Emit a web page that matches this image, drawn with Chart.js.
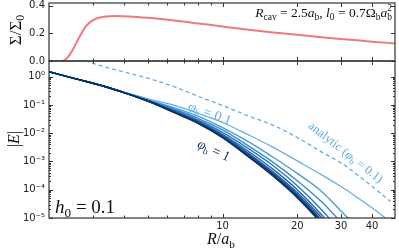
<!DOCTYPE html>
<html>
<head>
<meta charset="utf-8">
<script src="https://cdn.jsdelivr.net/npm/chart.js@4"></script>
<style>
  html, body { margin: 0; padding: 0; background: #fff; }
  #wrap { position: relative; width: 399px; height: 249px; }
  canvas { position: absolute; left: 0; top: 0; }
</style>
</head>
<body>
<div id="wrap">
  <canvas id="top" width="399" height="70"></canvas>
  <canvas id="bottom" width="399" height="249"></canvas>
</div>
<script>
// ==================
//  DATOS
// ==================
// panel superior: Sigma/Sigma_0
const sigmaR = [2, 2.2, 2.3, 2.4, 2.5, 2.6, 2.7, 2.8, 2.9, 3.0, 3.2, 3.4, 3.7, 4.2, 5, 6.5, 8, 10, 13, 16, 20, 25, 30, 35, 40, 49.5];
const sigmaVal = [0, 0, 0.005, 0.035, 0.085, 0.145, 0.2, 0.245, 0.275, 0.295, 0.315, 0.323, 0.326, 0.323, 0.313, 0.292, 0.272, 0.25, 0.225, 0.207, 0.19, 0.172, 0.16, 0.15, 0.14, 0.127];

// panel inferior: |E| para cada phi_b
const eR = [2, 2.5, 3.2, 4, 5, 6.5, 8, 10, 13, 16, 20, 25, 30, 35, 40, 45, 49.5];
const phiB = [1, 0.9, 0.8, 0.7, 0.6, 0.5, 0.4, 0.3, 0.2, 0.1];
const ePhi10 = [1.5, 0.89, 0.51, 0.275, 0.138, 0.0501, 0.0219, 0.00692, 0.00126, 3.02e-4, 5.25e-5, 6.3e-6, 7.9e-7];
const ePhi09 = [1.5, 0.89, 0.51, 0.275, 0.138, 0.0513, 0.0224, 0.00708, 0.00132, 3.16e-4, 5.62e-5, 6.9e-6, 8.9e-7];
const ePhi08 = [1.5, 0.89, 0.51, 0.275, 0.138, 0.0525, 0.0229, 0.00741, 0.00138, 3.39e-4, 6.03e-5, 7.6e-6, 1.0e-6];
const ePhi07 = [1.5, 0.89, 0.51, 0.275, 0.138, 0.0537, 0.0234, 0.00776, 0.00151, 3.72e-4, 6.76e-5, 8.7e-6, 1.26e-6];
const ePhi06 = [1.5, 0.89, 0.51, 0.28, 0.141, 0.055, 0.0245, 0.00832, 0.0017, 4.27e-4, 7.94e-5, 1.05e-5, 1.6e-6];
const ePhi05 = [1.5, 0.89, 0.51, 0.28, 0.141, 0.0575, 0.0263, 0.00912, 0.002, 5.25e-4, 1.0e-4, 1.32e-5, 2.0e-6];
const ePhi04 = [1.5, 0.89, 0.51, 0.28, 0.145, 0.0617, 0.0288, 0.0107, 0.00251, 7.08e-4, 1.38e-4, 2.0e-5, 3.2e-6];
const ePhi03 = [1.5, 0.89, 0.51, 0.28, 0.148, 0.0676, 0.0331, 0.0132, 0.00316, 9.3e-4, 2.09e-4, 3.8e-5, 7.1e-6, 1.6e-6];
const ePhi02 = [1.5, 0.89, 0.51, 0.28, 0.155, 0.0759, 0.0398, 0.0158, 0.00447, 0.00141, 3.8e-4, 8.9e-5, 1.78e-5, 4.5e-6];
const ePhi01 = [1.5, 0.89, 0.51, 0.288, 0.166, 0.0933, 0.0501, 0.024, 0.00794, 0.00316, 1.05e-3, 3.43e-4, 1.29e-4, 5.25e-5, 2.29e-5, 1.05e-5, 5.4e-6];
const eSeries = [ePhi10, ePhi09, ePhi08, ePhi07, ePhi06, ePhi05, ePhi04, ePhi03, ePhi02, ePhi01];

// analitico (phi_b = 0.1), discontinua
const analyticR = [2.8, 3.2, 4, 5, 6.5, 8, 10, 13, 16, 20, 25, 30, 35, 40, 45, 47.5];
const analyticE = [3.63, 2.51, 1.48, 0.89, 0.417, 0.2, 0.0955, 0.038, 0.019, 0.00708, 0.00219, 8.9e-4, 3.3e-4, 1.32e-4, 5.6e-5, 3.8e-5];

// ticks
const xLabels = [10, 20, 30, 40];
const xMinor = [3, 4, 5, 6, 7, 8, 9];
const topTicks = [0, 0.2, 0.4];
const bottomTicks = [1, 0.1, 0.01, 1e-3, 1e-4, 1e-5];

// ==================
//  ESTILOS
// ==================
const BLUES = ["#08306b", "#0a3a7a", "#0d4486", "#114f93", "#155a9f", "#1d66ab", "#2a78bb", "#3a8bc9", "#4c9bd4", "#65ade0"];
const LIGHT = "#65ade0";
const RED = "#ef7a7a";
const SERIF = '"Liberation Serif", "DejaVu Serif", serif';
const SANS = "DejaVu Sans";
const SUP = { "-": "⁻", "0": "⁰", "1": "¹", "2": "²", "3": "³", "4": "⁴", "5": "⁵" };
const sup = (n) => String(n).split("").map((c) => SUP[c]).join("");

// ==================
//  PLUGINS
// ==================
// marco con ticks hacia dentro (estilo matplotlib)
function makeFrame(cfg) {
  return {
    id: "frame",
    afterDraw(chart) {
      const { ctx, chartArea: a } = chart;
      const xs = chart.scales.x, ys = chart.scales.y;
      ctx.save();
      ctx.strokeStyle = "#333";
      ctx.lineWidth = 1.2;
      ctx.strokeRect(a.left, a.top, a.right - a.left, a.bottom - a.top);
      ctx.lineWidth = 1;
      ctx.beginPath();
      const xt = (v, len) => {
        const p = Math.round(xs.getPixelForValue(v)) + 0.5;
        ctx.moveTo(p, a.bottom); ctx.lineTo(p, a.bottom - len);
        ctx.moveTo(p, a.top); ctx.lineTo(p, a.top + len);
      };
      const yt = (v, len) => {
        const p = Math.round(ys.getPixelForValue(v)) + 0.5;
        ctx.moveTo(a.left, p); ctx.lineTo(a.left + len, p);
        ctx.moveTo(a.right, p); ctx.lineTo(a.right - len, p);
      };
      xLabels.forEach((v) => xt(v, 4));
      xMinor.forEach((v) => xt(v, 2.5));
      cfg.yMajor.forEach((v) => yt(v, 4));
      (cfg.yMinor || []).forEach((v) => yt(v, 2));
      ctx.stroke();
      ctx.restore();
    },
  };
}

// texto con sub/superindices
function drawRich(ctx, n) {
  const size = n.size;
  const font = (k) => {
    const s = k === "sub" || k === "sup" ? size * 0.7 : size;
    return `${k === "i" ? "italic " : ""}${s}px ${SERIF}`;
  };
  let w = 0, lastSub = null;
  const runs = n.parts.map(([t, k]) => {
    ctx.font = font(k);
    const tw = ctx.measureText(t).width;
    let dx = w;
    if (k === "sup" && lastSub) {
      dx = lastSub.dx;
      w = Math.max(w, dx + tw);
    } else {
      w += tw;
    }
    const run = { t, k, dx };
    lastSub = k === "sub" ? run : null;
    return run;
  });
  ctx.save();
  ctx.translate(n.x, n.y);
  ctx.rotate(((n.angle || 0) * Math.PI) / 180);
  ctx.fillStyle = n.color || "#111";
  ctx.textBaseline = "alphabetic";
  ctx.textAlign = "left";
  const x0 = n.align === "right" ? -w : n.align === "left" ? 0 : -w / 2;
  const y0 = n.mid ? size * 0.33 : 0;
  runs.forEach((r) => {
    ctx.font = font(r.k);
    const dy = r.k === "sub" ? size * 0.22 : r.k === "sup" ? -size * 0.42 : 0;
    ctx.fillText(r.t, x0 + r.dx, y0 + dy);
  });
  ctx.restore();
}

function makeNotes(items) {
  return {
    id: "notes",
    afterDraw(chart) {
      items.forEach((n) => drawRich(chart.ctx, n));
    },
  };
}

const yAxisFit = (s) => { s.width = 45; s.paddingTop = 0; s.paddingBottom = 0; };
const tickFont = { family: SANS, size: 10 };

// ==================
//  PANEL SUPERIOR
// ==================
new Chart(document.getElementById("top"), {
  type: "line",
  data: {
    datasets: [{
      data: sigmaR.map((r, i) => ({ x: r, y: sigmaVal[i] })),
      borderColor: RED,
      borderWidth: 2,
      pointRadius: 0,
      cubicInterpolationMode: "monotone",
    }],
  },
  options: {
    responsive: false,
    animation: false,
    layout: { padding: { left: 4, right: 4, top: 3, bottom: 9 } },
    plugins: { legend: { display: false }, tooltip: { enabled: false } },
    scales: {
      x: { type: "logarithmic", min: 2, max: 49.5, display: false },
      y: {
        min: 0, max: 0.42,
        grid: { display: false, drawTicks: false },
        border: { display: false },
        ticks: { font: tickFont, color: "#222", padding: 4, callback: (v) => v.toFixed(1) },
        afterBuildTicks: (s) => { s.ticks = topTicks.map((v) => ({ value: v })); },
        afterFit: yAxisFit,
      },
    },
  },
  plugins: [
    makeFrame({ yMajor: topTicks }),
    makeNotes([
      { parts: [["Σ", "r"], ["/", "r"], ["Σ", "r"], ["0", "sub"]], x: 15, y: 30, angle: -90, mid: true, size: 17 },
      {
        parts: [["R", "i"], ["cav", "sub"], [" = 2.5", "r"], ["a", "i"], ["b", "sub"], [", ", "r"], ["l", "i"], ["0", "sub"],
          [" = 0.7Ω", "r"], ["b", "sub"], ["a", "i"], ["b", "sub"], ["2", "sup"]],
        x: 392, y: 17, align: "right", size: 13.5,
      },
    ]),
  ],
});

// ==================
//  PANEL INFERIOR
// ==================
const yMinor = [];
bottomTicks.slice(1).forEach((d) => {
  for (let k = 2; k <= 9; k++) yMinor.push(d * k);
});

const eDatasets = eSeries.map((vals, i) => ({
  data: vals.map((v, j) => ({ x: eR[j], y: v })),
  borderColor: BLUES[i],
  borderWidth: i === BLUES.length - 1 ? 1.2 : 1.4,
  pointRadius: 0,
  cubicInterpolationMode: "monotone",
  clip: 0,
}));

eDatasets.push({
  data: analyticR.map((r, i) => ({ x: r, y: analyticE[i] })),
  borderColor: LIGHT,
  borderWidth: 1.3,
  borderDash: [4, 3],
  pointRadius: 0,
  cubicInterpolationMode: "monotone",
  clip: 0,
});

new Chart(document.getElementById("bottom"), {
  type: "line",
  data: { datasets: eDatasets },
  options: {
    responsive: false,
    animation: false,
    layout: { padding: { left: 4, right: 4, top: 61, bottom: 0 } },
    plugins: { legend: { display: false }, tooltip: { enabled: false } },
    scales: {
      x: {
        type: "logarithmic", min: 2, max: 49.5,
        grid: { display: false, drawTicks: false },
        border: { display: false },
        ticks: { font: tickFont, color: "#222", padding: 2, maxRotation: 0, autoSkip: false, callback: (v) => String(v) },
        afterBuildTicks: (s) => { s.ticks = xLabels.map((v) => ({ value: v })); },
        afterFit: (s) => { s.height = 31; s.paddingLeft = 0; s.paddingRight = 0; },
      },
      y: {
        type: "logarithmic", min: 1e-5, max: 3.6,
        grid: { display: false, drawTicks: false },
        border: { display: false },
        ticks: { font: tickFont, color: "#222", padding: 4, callback: (v) => "10" + sup(Math.round(Math.log10(v))) },
        afterBuildTicks: (s) => { s.ticks = bottomTicks.map((v) => ({ value: v })); },
        afterFit: yAxisFit,
      },
    },
  },
  plugins: [
    makeFrame({ yMajor: bottomTicks, yMinor: yMinor }),
    makeNotes([
      { parts: [["|", "r"], ["E", "i"], ["|", "r"]], x: 14, y: 139, angle: -90, mid: true, size: 16 },
      { parts: [["R", "i"], ["/", "r"], ["a", "i"], ["b", "sub"]], x: 221, y: 244, size: 16 },
      { parts: [["h", "i"], ["0", "sub"], [" = 0.1", "r"]], x: 55, y: 213, align: "left", size: 19 },
      { parts: [["φ", "i"], ["b", "sub"], [" = 0.1", "r"]], x: 210, y: 113, angle: 20, mid: true, size: 14, color: LIGHT },
      { parts: [["φ", "i"], ["b", "sub"], [" = 1", "r"]], x: 214, y: 150, angle: 25, mid: true, size: 14, color: "#163a6c" },
      { parts: [["analytic (", "r"], ["φ", "i"], ["b", "sub"], [" = 0.1)", "r"]], x: 346, y: 152, angle: 38, mid: true, size: 12.5, color: LIGHT },
    ]),
  ],
});
</script>
</body>
</html>
